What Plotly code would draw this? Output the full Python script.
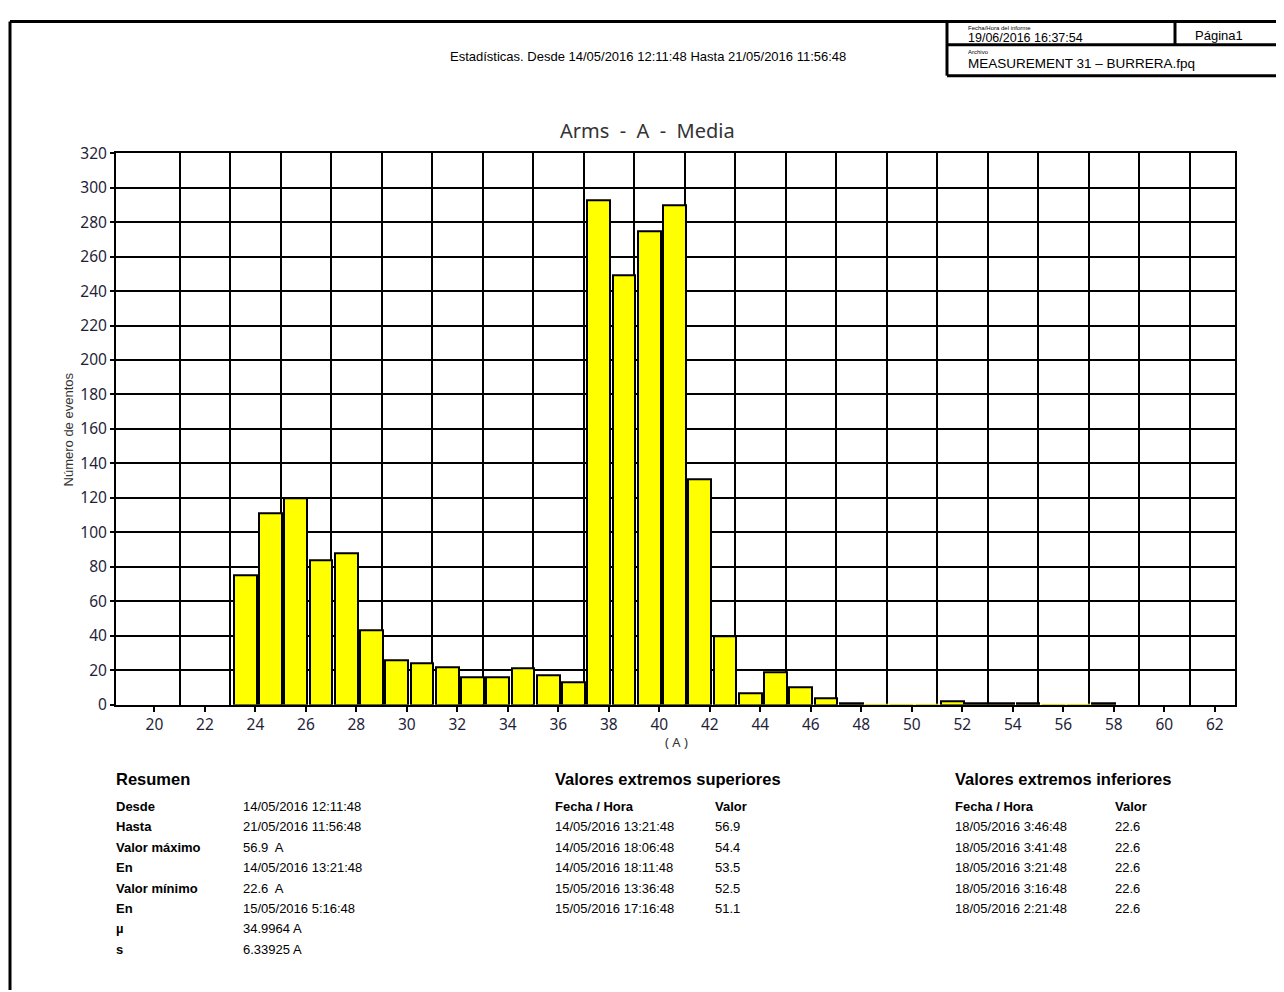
import plotly.graph_objects as go

# the page is shown with an offset (8 px left, 16 px top), so the figure is sized to fill the rest
OFF_X, OFF_Y = 8, 16
W, H = 1284 - OFF_X, 992

# Histogram data: lower edge of each 1 A class and number of events
BIN_START = list(range(23, 58))
COUNTS = [75, 111, 120, 84, 88, 43, 26, 24, 22, 16, 16, 21, 17, 13,
          293, 249, 275, 290, 131, 40, 7, 19, 10, 4, 1,
          0, 0, 0, 2, 1, 1, 1, 0, 0, 1]
X_TICKS = list(range(20, 64, 2))
Y_TICKS = list(range(0, 340, 20))

REPORT_TITLE = "Estadísticas. Desde 14/05/2016 12:11:48 Hasta 21/05/2016 11:56:48"
REPORT_DATE = "19/06/2016 16:37:54"
REPORT_FILE = "MEASUREMENT 31 – BURRERA.fpq"

SUMMARY_LABELS = ["Desde", "Hasta", "Valor máximo", "En", "Valor mínimo", "En", "µ", "s"]
SUMMARY_VALUES = ["14/05/2016 12:11:48", "21/05/2016 11:56:48", "56.9  A", "14/05/2016 13:21:48",
                  "22.6  A", "15/05/2016 5:16:48", "34.9964 A", "6.33925 A"]
UPPER_DATES = ["14/05/2016 13:21:48", "14/05/2016 18:06:48", "14/05/2016 18:11:48",
               "15/05/2016 13:36:48", "15/05/2016 17:16:48"]
UPPER_VALUES = ["56.9", "54.4", "53.5", "52.5", "51.1"]
LOWER_DATES = ["18/05/2016 3:46:48", "18/05/2016 3:41:48", "18/05/2016 3:21:48",
               "18/05/2016 3:16:48", "18/05/2016 2:21:48"]
LOWER_VALUES = ["22.6", "22.6", "22.6", "22.6", "22.6"]


# page pixel -> paper fraction
def px(x):
    return (x - OFF_X) / W


def py(y):
    return min(1.0, 1 - (y - OFF_Y) / (H - OFF_Y))


centers = [b + 0.6 for b in BIN_START]

fig = go.Figure()
fig.add_trace(go.Bar(
    x=centers, y=COUNTS, width=0.9,
    marker=dict(color="#FFFF00", line=dict(color="black", width=2)),
    showlegend=False,
))

# empty classes show as a thin yellow line on the baseline
zx, zy = [], []
for c, n in zip(centers, COUNTS):
    if n == 0:
        zx += [c - 0.5, c + 0.5, None]
        zy += [0, 0, None]
fig.add_trace(go.Scatter(x=zx, y=zy, mode="lines", line=dict(color="#FFFF00", width=2),
                         showlegend=False, hoverinfo="skip"))

tick_font = dict(family="Noto Sans, Arial, sans-serif", size=15.5, color="#1f1f3a")
fig.update_layout(
    width=W, height=H,
    margin=dict(l=0, r=0, t=0, b=0),
    paper_bgcolor="white", plot_bgcolor="white",
    bargap=0,
    xaxis=dict(
        domain=[px(116), px(1235)], range=[18.48, 62.8],
        tickvals=X_TICKS, showgrid=False, ticks="outside", ticklen=5, tickwidth=1.5,
        tickcolor="black", tickfont=tick_font,
        showline=True, linecolor="black", linewidth=2, mirror=True, zeroline=False,
        minor=dict(tickvals=list(range(21, 63, 2)), showgrid=True, gridcolor="black", gridwidth=1.5),
    ),
    yaxis=dict(
        domain=[py(705), py(150)], range=[0, 320],
        tickvals=Y_TICKS, showgrid=True, gridcolor="black", gridwidth=1.5,
        ticks="outside", ticklen=4, tickwidth=1.5, tickcolor="black", tickfont=tick_font,
        showline=True, linecolor="black", linewidth=2, mirror=True, zeroline=False,
    ),
)

annotations = []


def text(x, y, s, size=13, bold=False, anchor="left", color="black", family="Liberation Sans, Arial, sans-serif", angle=0):
    if anchor == "left":
        x -= 2
    annotations.append(dict(
        x=px(x), y=py(y), xref="paper", yref="paper", text=f"<b>{s}</b>" if bold else s,
        showarrow=False, xanchor=anchor, yanchor="middle", textangle=angle,
        font=dict(size=size, color=color, family=family),
    ))


# chart texts
text(648, 127, "Arms  -  A  -  Media", size=20, anchor="center", color="#333333",
     family="Noto Sans, Arial, sans-serif")
text(676, 742, "( A )", size=13, anchor="center", color="#333333", family="Noto Sans, Arial, sans-serif")
text(68, 428, "Número de eventos", size=13, anchor="center", color="#333333", angle=-90)

# page header
text(648, 53, REPORT_TITLE, size=13, anchor="center")
text(968, 24, "Fecha/Hora del informe", size=6)
text(968, 34, REPORT_DATE, size=12.5)
text(1195, 32, "Página1", size=13)
text(968, 48, "Archivo", size=6)
text(968, 60, REPORT_FILE, size=13.5)

# summary block
row_y = [807 + i * 20.6 for i in range(8)]
text(116, 780, "Resumen", size=16.5, bold=True)
for y, lab, val in zip(row_y, SUMMARY_LABELS, SUMMARY_VALUES):
    text(116, y, lab, bold=True)
    text(243, y, val)

for x0, x1, title, dates, vals in [(555, 715, "Valores extremos superiores", UPPER_DATES, UPPER_VALUES),
                                   (955, 1115, "Valores extremos inferiores", LOWER_DATES, LOWER_VALUES)]:
    text(x0, 780, title, size=16.5, bold=True)
    text(x0, row_y[0], "Fecha / Hora", bold=True)
    text(x1, row_y[0], "Valor", bold=True)
    for y, d, v in zip(row_y[1:], dates, vals):
        text(x0, y, d)
        text(x1, y, v)

fig.update_layout(annotations=annotations)

# page frame and header box
frame = dict(color="black", width=3)
top = 1 - 1.5 / H
shapes = [
    dict(type="line", x0=px(10), x1=px(10), y0=top, y1=0, line=frame),
    dict(type="line", x0=px(10), x1=1, y0=top, y1=top, line=frame),
    dict(type="line", x0=px(947), x1=px(947), y0=top, y1=py(72), line=frame),
    dict(type="line", x0=px(947), x1=1, y0=py(72), y1=py(72), line=frame),
    dict(type="line", x0=px(947), x1=1, y0=py(41), y1=py(41), line=frame),
    dict(type="line", x0=px(1175), x1=px(1175), y0=top, y1=py(41), line=frame),
]
for s in shapes:
    s.update(xref="paper", yref="paper")
fig.update_layout(shapes=shapes)

fig.write_html("out.html")
